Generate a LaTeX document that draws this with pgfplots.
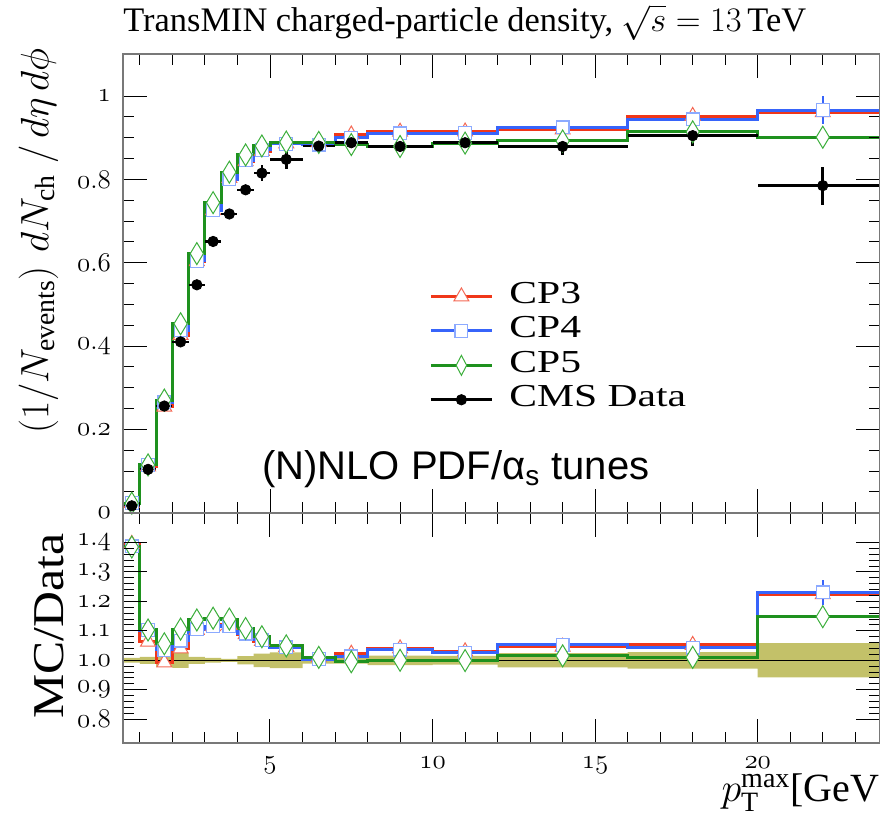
\documentclass[border=0pt]{standalone}
\usepackage{fix-cm}
\usepackage{fontspec}
\setmainfont{Liberation Serif}
\newfontfamily\sansfont{Liberation Sans}
\usepackage{graphicx}
\usepackage{pgfplots}
\usepackage{pgfplotstable}
\pgfplotsset{compat=1.18}
\usepgfplotslibrary{fillbetween}

\definecolor{cpthree}{RGB}{240,55,25}
\definecolor{cpthreem}{RGB}{245,105,85}
\definecolor{cpfour}{RGB}{55,100,250}
\definecolor{cpfourm}{RGB}{140,170,255}
\definecolor{cpfive}{RGB}{30,145,30}
\definecolor{cpfivem}{RGB}{60,175,60}
\definecolor{band}{RGB}{195,193,105}
\definecolor{framegray}{RGB}{120,120,120}

% bin lower edges (last row = upper edge of last bin)
\pgfplotstableread{
edge  m3     m4     m5     r3    r4    r5    bu    bl
0.5   0.0230 0.0229 0.0229 1.395 1.387 1.385 1.008 0.992
1.0   0.1106 0.1146 0.1147 1.063 1.102 1.103 1.012 0.988
1.5   0.2540 0.2650 0.2703 0.992 1.035 1.056 1.022 0.978
2.0   0.4264 0.4375 0.4535 1.040 1.067 1.106 1.026 0.974
2.5   0.6033 0.6044 0.6219 1.103 1.105 1.137 1.012 0.988
3.0   0.7259 0.7259 0.7441 1.115 1.115 1.143 1.008 0.992
3.5   0.8030 0.8009 0.8174 1.120 1.117 1.140 1.005 0.995
4.0   0.8432 0.8455 0.8587 1.088 1.091 1.108 1.014 0.986
4.5   0.8680 0.8712 0.8802 1.065 1.069 1.080 1.023 0.977
5.0   0.8862 0.8853 0.8896 1.045 1.044 1.049 1.027 0.973
6.0   0.8888 0.8835 0.8888 1.010 1.004 1.010 1.011 0.989
7.0   0.9075 0.8995 0.8836 1.022 1.013 0.995 1.011 0.989
8.0   0.9142 0.9106 0.8790 1.040 1.036 1.000 1.016 0.984
10.0  0.9146 0.9111 0.8871 1.030 1.026 0.999 1.015 0.985
12.0  0.9194 0.9247 0.8922 1.046 1.052 1.015 1.024 0.976
16.0  0.9521 0.9439 0.9141 1.052 1.043 1.010 1.028 0.972
20.0  0.9608 0.9663 0.9012 1.224 1.231 1.148 1.058 0.942
24.0  0.9608 0.9663 0.9012 1.224 1.231 1.148 1.058 0.942
}\steps

% bin centres: data, MC values, MC errors
\pgfplotstableread{
x     ex    data   ey     m3     m4     m5     r3    r4    r5    e3    e4    e5    q3    q4    q5
0.75  0.25  0.0165 0.0002 0.0230 0.0229 0.0229 1.395 1.387 1.385 0     0     0     0     0     0
1.25  0.25  0.104  0.0012 0.1106 0.1146 0.1147 1.063 1.102 1.103 0     0     0     0     0     0
1.75  0.25  0.256  0.0056 0.2540 0.2650 0.2703 0.992 1.035 1.056 0     0     0     0     0     0
2.25  0.25  0.410  0.0107 0.4264 0.4375 0.4535 1.040 1.067 1.106 0     0     0     0     0     0
2.75  0.25  0.547  0.0066 0.6033 0.6044 0.6219 1.103 1.105 1.137 0     0     0     0     0     0
3.25  0.25  0.651  0.0052 0.7259 0.7259 0.7441 1.115 1.115 1.143 0     0     0     0     0     0
3.75  0.25  0.717  0.0036 0.8030 0.8009 0.8174 1.120 1.117 1.140 0     0     0     0     0     0
4.25  0.25  0.775  0.0109 0.8432 0.8455 0.8587 1.088 1.091 1.108 0     0     0     0     0     0
4.75  0.25  0.815  0.0187 0.8680 0.8712 0.8802 1.065 1.069 1.080 0     0     0     0     0     0
5.5   0.5   0.848  0.0229 0.8862 0.8853 0.8896 1.045 1.044 1.049 0     0     0     0     0     0
6.5   0.5   0.880  0.0097 0.8888 0.8835 0.8888 1.010 1.004 1.010 0     0     0     0     0     0
7.5   0.5   0.888  0.0098 0.9075 0.8995 0.8836 1.022 1.013 0.995 0.004 0     0     0.005 0     0
9     1     0.879  0.0141 0.9142 0.9106 0.8790 1.040 1.036 1.000 0     0     0     0     0     0
11    1     0.888  0.0133 0.9146 0.9111 0.8871 1.030 1.026 0.999 0.004 0     0     0.005 0     0
14    2     0.879  0.0211 0.9194 0.9247 0.8922 1.046 1.052 1.015 0.004 0.004 0     0.005 0.005 0
18    2     0.905  0.0253 0.9521 0.9439 0.9141 1.052 1.043 1.010 0.006 0.006 0     0.007 0.007 0
22    2     0.785  0.0455 0.9608 0.9663 0.9012 1.224 1.231 1.148 0.028 0.033 0.010 0.035 0.042 0.015
}\pts

\pgfplotsset{
  rivet/.style={
    scale only axis, width=378.65pt,
    xmin=0.47, xmax=23.76,
    axis line style={framegray, line width=1pt},
    tick style={black, line width=0.5pt},
    major tick length=12pt, minor tick length=5.5pt,
    tick align=inside,
    xtick={5,10,15,20}, minor xtick={1,2,...,23},
    xtick pos=both, ytick pos=both,
    tick label style={font=\fontsize{13.5}{15}\selectfont},
    yticklabel style={xshift=-2.4pt},
    xticklabel style={yshift=-3.5pt},
    yticklabel={$\mathnormal{\pgfmathprintnumber{\tick}}$},
    xticklabel={$\mathnormal{\pgfmathprintnumber{\tick}}$},
    axis on top,
  },
  mcline/.style={const plot, line width=1.5pt, forget plot},
  mkthree/.style={only marks, mark=triangle*, mark size=4.3pt,
    mark options={draw=cpthreem, fill=white, line width=0.5pt}},
  mkfour/.style={only marks, mark=square*, mark size=3.2pt,
    mark options={draw=cpfourm, fill=white, line width=0.6pt}},
  mkfive/.style={only marks, mark=diamond*, mark size=5.5pt,
    mark options={draw=cpfivem, fill=white, line width=0.5pt, xscale=0.8}},
}

\begin{document}
\begin{tikzpicture}

% ---- main panel
\begin{axis}[rivet,
  name=main, at={(61.35pt,-27pt)}, anchor=north west,
  height=229.35pt,
  ymin=0, ymax=1.101,
  ytick={0,0.2,0.4,0.6,0.8,1}, minor y tick num=3,
  xticklabels={},
  legend style={at={(axis cs:9.89,0.561)}, anchor=north west,
    draw=none, fill=none, inner sep=0pt, column sep=8pt, row sep=0pt,
    font=\fontsize{16}{16}\selectfont,
    nodes={inner sep=0pt, text height=12pt, text depth=5.2pt}},
  legend cell align=left,
]
\addplot[mcline, cpthree] table[x=edge, y=m3] {\steps};
\addplot[mkthree,
  legend image code/.code={
    \draw[cpthree, line width=1.5pt] (0pt,0pt) -- (30.5pt,0pt);
    \draw[draw=cpthreem, fill=white, line width=0.5pt]
      plot[mark=triangle*, mark size=4.3pt] coordinates {(15.25pt,0pt)};},
  error bars/.cd, y dir=both, y explicit, error mark=none,
  error bar style={cpthree, line width=1.2pt}]
  table[x=x, y=m3, y error=e3] {\pts};
\addlegendentry{\scalebox{1.3}[1]{CP3}}

\addplot[mcline, cpfour] table[x=edge, y=m4] {\steps};
\addplot[mkfour,
  legend image code/.code={
    \draw[cpfour, line width=1.5pt] (0pt,0pt) -- (30.5pt,0pt);
    \draw[draw=cpfourm, fill=white, line width=0.6pt]
      plot[mark=square*, mark size=3.2pt] coordinates {(15.25pt,0pt)};},
  error bars/.cd, y dir=both, y explicit, error mark=none,
  error bar style={cpfour, line width=1.2pt}]
  table[x=x, y=m4, y error=e4] {\pts};
\addlegendentry{\scalebox{1.3}[1]{CP4}}

\addplot[mcline, cpfive] table[x=edge, y=m5] {\steps};
\addplot[mkfive,
  legend image code/.code={
    \draw[cpfive, line width=1.5pt] (0pt,0pt) -- (30.5pt,0pt);
    \draw[draw=cpfivem, fill=white, line width=0.5pt]
      plot[mark=diamond*, mark size=5pt, mark options={xscale=0.7}] coordinates {(15.25pt,0pt)};},
  error bars/.cd, y dir=both, y explicit, error mark=none,
  error bar style={cpfive, line width=1.2pt}]
  table[x=x, y=m5, y error=e5] {\pts};
\addlegendentry{\scalebox{1.3}[1]{CP5}}

\addplot[only marks, mark=*, mark size=2.6pt, black,
  legend image code/.code={
    \draw[black, line width=1.3pt] (0pt,0pt) -- (30.5pt,0pt);
    \fill[black] plot[mark=*, mark size=2.6pt] coordinates {(15.25pt,0pt)};},
  error bars/.cd, x dir=both, x explicit, y dir=both, y explicit,
  error mark=none, error bar style={black, line width=1.3pt}]
  table[x=x, y=data, x error=ex, y error=ey] {\pts};
\addlegendentry{\scalebox{1.3}[1]{CMS Data}}

\node[anchor=base west, inner sep=0pt, font=\sansfont\fontsize{20}{24}\selectfont]
  at (axis cs:4.75,0.0785) {(N)NLO PDF/α\textsubscript{s} tunes};
\end{axis}

% ---- ratio panel
\begin{axis}[rivet,
  name=ratio, at={(61.35pt,-256.35pt)}, anchor=north west,
  height=115pt,
  ymin=0.72, ymax=1.5015,
  ytick={0.8,0.9,1.0,1.1,1.2,1.3,1.4}, minor y tick num=4,
  yticklabel style={/pgf/number format/.cd, fixed, fixed zerofill, precision=1},
]
\addplot[name path=bu, const plot, draw=none, forget plot] table[x=edge, y=bu] {\steps};
\addplot[name path=bl, const plot, draw=none, forget plot] table[x=edge, y=bl] {\steps};
\addplot[band, forget plot] fill between[of=bu and bl];
\addplot[black, line width=0.5pt, forget plot] coordinates {(0.47,1) (24,1)};

\addplot[mcline, cpthree] table[x=edge, y=r3] {\steps};
\addplot[mkthree, forget plot,
  error bars/.cd, y dir=both, y explicit, error mark=none,
  error bar style={cpthree, line width=1.2pt}]
  table[x=x, y=r3, y error=q3] {\pts};
\addplot[mcline, cpfour] table[x=edge, y=r4] {\steps};
\addplot[mkfour, forget plot,
  error bars/.cd, y dir=both, y explicit, error mark=none,
  error bar style={cpfour, line width=1.2pt}]
  table[x=x, y=r4, y error=q4] {\pts};
\addplot[mcline, cpfive] table[x=edge, y=r5] {\steps};
\addplot[mkfive, forget plot,
  error bars/.cd, y dir=both, y explicit, error mark=none,
  error bar style={cpfive, line width=1.2pt}]
  table[x=x, y=r5, y error=q5] {\pts};
\end{axis}

% ---- titles and labels
\node[anchor=base west, inner sep=0pt, font=\fontsize{17.2}{20}\selectfont]
  at (61.5pt,-15.85pt) {TransMIN charged-particle density, $\sqrt{s}=13\,$TeV};
\node[rotate=90, anchor=east, inner sep=0pt, font=\fontsize{19.8}{22}\selectfont]
  at (19.25pt,-24pt) {$\left(1/N_{\mathrm{events}}\right)\,dN_{\mathrm{ch}}\;/\,d\eta\,d\phi$};
\node[rotate=90, anchor=east, inner sep=0pt, font=\fontsize{22}{25}\selectfont]
  at (24.5pt,-266.5pt) {\scalebox{1.13}[1]{MC/Data}};
\node[anchor=base east, inner sep=0pt, font=\fontsize{20}{24}\selectfont]
  at (446.5pt,-400.85pt) {$p_{\mathrm{T}}^{\mathrm{max}}$[GeV]};

\pgfresetboundingbox
\useasboundingbox (0pt,0pt) rectangle (440pt,-408.5pt);
\end{tikzpicture}
\end{document}
